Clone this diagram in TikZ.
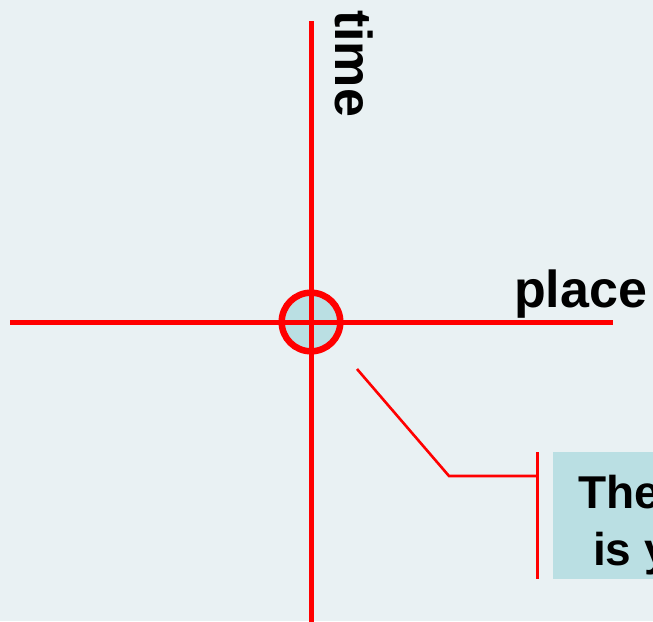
\documentclass[tikz,border=0pt]{standalone}
\usepackage{fontspec}
\setmainfont{Liberation Sans}
\definecolor{bgc}{HTML}{E9F1F3}
\definecolor{lblue}{HTML}{BADFE3}
\definecolor{axisred}{HTML}{FF0000}
\tikzset{
  axisline/.style={draw=axisred, line width=5pt},
  callline/.style={draw=axisred, line width=2.6pt},
  bigtext/.style={font=\fontsize{52}{60}\selectfont\bfseries, inner sep=0pt, text=black},
  boxtext/.style={font=\fontsize{46}{55}\selectfont\bfseries, inner sep=0pt, text=black}
}
\begin{document}
\begin{tikzpicture}[x=1pt,y=1pt]
\useasboundingbox (0,0) rectangle (653,-621);
\begin{scope}
\clip (0,0) rectangle (653,-621);
\fill[bgc] (0,0) rectangle (653,-621);
% axes
\coordinate (ttop) at (311,-21);
\coordinate (tbot) at (311,-625);
\coordinate (pleft) at (10,-322);
\coordinate (pright) at (613,-322);
\draw[axisline] (ttop) -- (tbot);
\draw[axisline] (pleft) -- (pright);
\node[circle, minimum size=58.6pt, inner sep=0pt, fill=lblue, draw=axisred, line width=6.5pt] (hub) at (311,-322) {};
\draw[axisline] (311,-292) -- (311,-352);
\draw[axisline] (281,-322) -- (341,-322);
% labels
\node[bigtext, rotate=-90, anchor=base west] (time) at (335,-10) {time};
\node[bigtext, anchor=base west] (place) at (514,-307) {place};
% callout box
\node[fill=lblue, minimum width=120pt, minimum height=127pt, anchor=north west, inner sep=0pt] (box) at (553,-452) {};
\node[boxtext, anchor=base west] (line1) at (578,-508) {The};
\node[boxtext, anchor=base west] (line2) at (593,-565) {is y};
% callout connector
\coordinate (cstart) at (357,-369);
\coordinate (celbow) at (449,-476);
\coordinate (cbrtop) at (537.5,-452);
\coordinate (cbrbot) at (537.5,-579);
\draw[callline] (cstart) -- (celbow) -- (537.5,-476);
\draw[callline] (cbrtop) -- (cbrbot);
\end{scope}
\end{tikzpicture}
\end{document}
